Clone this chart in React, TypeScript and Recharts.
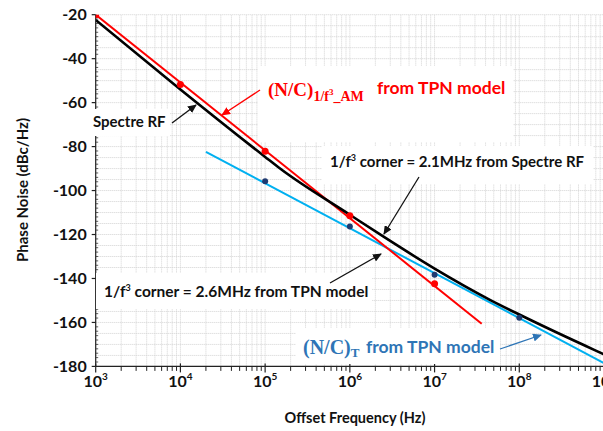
import React from "react";
import { ComposedChart, Line, XAxis, YAxis, ReferenceLine } from "recharts";

const SANS = "Lato, 'Open Sans', sans-serif";
const SERIF = "'Liberation Serif', 'DejaVu Serif', serif";

const RED = "#ff0000";
const CYAN = "#00b0f0";
const NAVY = "#1f3a70";
const BLUE_TEXT = "#2e75b6";
const GRID = "#d2d2d2";

// Spectre RF simulated phase noise (offset Hz, dBc/Hz)
const spectreFreq = [1e3, 1e4, 1e5, 1.5e5, 1e6, 2.5e6, 1e7, 4.5e7, 1e8, 8e8, 1e9];
const spectreDb = [-22.4, -54, -84.7, -90, -111, -121, -135.5, -149.7, -156.4, -172.8, -174.5];

// TPN model, (N/C) 1/f^3 AM asymptote and computed points
const amFitFreq = [1e3, 3.6e7];
const amFitDb = [-20, -160.6];
const amPointFreq = [1e3, 1e4, 1e5, 1e6, 1e7];
const amPointDb = [-20, -51.7, -82.1, -111.5, -142.4];

// TPN model, (N/C)T thermal asymptote and computed points
const thFitFreq = [2e4, 1e9];
const thFitDb = [-82.4, -178.5];
const thPointFreq = [1e5, 1e6, 1e7, 1e8];
const thPointDb = [-95.8, -116.3, -138.3, -157.9];

// axis ticks
const decades = [1e3, 1e4, 1e5, 1e6, 1e7, 1e8, 1e9];
const decadeExp = ["3", "4", "5", "6", "7", "8", "9"];
const minorSteps = [2, 3, 4, 5, 6, 7, 8, 9];

const toRows = (fs: number[], ds: number[]) => fs.map((f, i) => ({ f, db: ds[i] }));

const logTicks: number[] = [];
decades.forEach((d, i) => {
  logTicks.push(d);
  if (i < decades.length - 1) minorSteps.forEach((m) => logTicks.push(m * d));
});

const yMinor: number[] = [];
for (let v = -180; v <= -20; v += 2) yMinor.push(v);
const yGrid: number[] = [];
for (let v = -180; v <= -20; v += 5) yGrid.push(v);

function XTick(props: any) {
  const { x, y, payload } = props;
  const i = decades.indexOf(payload.value);
  if (i < 0) {
    return <line x1={x} x2={x} y1={y} y2={y + 4.5} stroke="#222" strokeWidth={1} />;
  }
  return (
    <g>
      <line x1={x} x2={x} y1={y - 3} y2={y + 6} stroke="#222" strokeWidth={1.2} />
      <text x={x} y={y + 21} textAnchor="middle" fontFamily={SANS} fontWeight={700} fontSize={16} fill="#111">
        10<tspan fontSize={10} dy={-7}>{decadeExp[i]}</tspan>
      </text>
    </g>
  );
}

function YTick(props: any) {
  const { x, y, payload } = props;
  const v = payload.value;
  if (v % 20 !== 0) {
    return <line x1={x} x2={x + 2.5} y1={y} y2={y} stroke="#333" strokeWidth={0.8} />;
  }
  return (
    <g>
      <line x1={x - 4} x2={x} y1={y} y2={y} stroke="#222" strokeWidth={1.2} />
      <text x={x - 9} y={y + 5.5} textAnchor="end" fontFamily={SANS} fontWeight={700} fontSize={16} fill="#111">
        {v}
      </text>
    </g>
  );
}

function Arrow({ x1, y1, x2, y2, color, id }: any) {
  return <line x1={x1} y1={y1} x2={x2} y2={y2} stroke={color} strokeWidth={1.3} markerEnd={`url(#${id})`} />;
}

function Annotations() {
  const head = (id: string, color: string) => (
    <marker id={id} markerUnits="userSpaceOnUse" markerWidth={9} markerHeight={8} refX={8} refY={4} orient="auto">
      <path d="M0,0 L9,4 L0,8 z" fill={color} />
    </marker>
  );
  return (
    <svg width={603} height={431} style={{ position: "absolute", left: 0, top: 0, pointerEvents: "none" }}>
      <defs>
        {head("hk", "#111")}
        {head("hr", RED)}
        {head("hb", BLUE_TEXT)}
      </defs>

      {/* label backgrounds */}
      <rect x={258} y={66} width={255} height={76} fill="#fff" />
      <rect x={90} y={109} width={80} height={27} fill="#fff" />
      <rect x={322} y={146} width={271} height={38} fill="#fff" />
      <rect x={96} y={273} width={276} height={36} fill="#fff" />
      <rect x={296} y={328} width={204} height={36} fill="#fff" />

      <text x={268} y={96} fill={RED} fontWeight={700}>
        <tspan fontFamily={SERIF} fontSize={19}>(N/C)</tspan>
        <tspan fontFamily={SERIF} fontSize={14} dy={5}>1/f</tspan>
        <tspan fontFamily={SERIF} fontSize={9} dy={-6}>3</tspan>
        <tspan fontFamily={SERIF} fontSize={14} dy={6}>_AM</tspan>
      </text>
      <text x={377} y={94} fill={RED} fontFamily={SANS} fontWeight={700} fontSize={17.5}>
        from TPN model
      </text>
      <Arrow x1={260} y1={90} x2={222} y2={115} color={RED} id="hr" />

      <text x={93} y={127} fill="#111" fontFamily={SANS} fontWeight={700} fontSize={15}>
        Spectre RF
      </text>
      <Arrow x1={172} y1={123} x2={196} y2={105} color="#111" id="hk" />

      <text x={330} y={167} fill="#111" fontFamily={SANS} fontWeight={700} fontSize={15}>
        1/f<tspan fontSize={9} dy={-6}>3</tspan>
        <tspan dy={6}> corner = 2.1MHz from Spectre RF</tspan>
      </text>
      <Arrow x1={419} y1={177} x2={384} y2={234} color="#111" id="hk" />

      <text x={104} y={297} fill="#111" fontFamily={SANS} fontWeight={700} fontSize={15.5}>
        1/f<tspan fontSize={9} dy={-6}>3</tspan>
        <tspan dy={6}> corner = 2.6MHz from TPN model</tspan>
      </text>
      <Arrow x1={330} y1={283} x2={381} y2={254} color="#111" id="hk" />

      <text x={303} y={354} fill={BLUE_TEXT} fontWeight={700}>
        <tspan fontFamily={SERIF} fontSize={20}>(N/C)</tspan>
        <tspan fontFamily={SERIF} fontSize={13} dy={3}>T</tspan>
      </text>
      <text x={366} y={353} fill={BLUE_TEXT} fontFamily={SANS} fontWeight={700} fontSize={17.5}>
        from TPN model
      </text>
      <Arrow x1={500} y1={349} x2={541} y2={335} color={BLUE_TEXT} id="hb" />

      <text
        x={22}
        y={190}
        transform="rotate(-90 22 190)"
        textAnchor="middle"
        dominantBaseline="central"
        fill="#111"
        fontFamily={SANS}
        fontWeight={700}
        fontSize={15}
      >
        Phase Noise  (dBc/Hz)
      </text>
      <text x={355} y={423} textAnchor="middle" fill="#111" fontFamily={SANS} fontWeight={700} fontSize={14.5}>
        Offset Frequency (Hz)
      </text>
    </svg>
  );
}

export default function App() {
  return (
    <div style={{ position: "absolute", left: 0, top: 0, width: 603, height: 431, overflow: "hidden", background: "#fff" }}>
      <ComposedChart width={620} height={431} margin={{ top: 14.7, right: 16, bottom: 27.7, left: 14 }}>
        <XAxis
          xAxisId="g"
          dataKey="f"
          type="number"
          scale="log"
          domain={[1e3, 1e9]}
          tick={false}
          tickLine={false}
          axisLine={false}
          height={6.9}
          allowDataOverflow
        />
        <XAxis
          xAxisId="a"
          dataKey="f"
          type="number"
          scale="log"
          domain={[1e3, 1e9]}
          ticks={logTicks}
          interval={0}
          tick={<XTick />}
          tickLine={false}
          tickSize={0}
          tickMargin={0}
          axisLine={{ stroke: "#222", strokeWidth: 1.2 }}
          height={30}
          allowDataOverflow
        />
        <YAxis
          yAxisId="g"
          type="number"
          domain={[-180, -20]}
          tick={false}
          tickLine={false}
          axisLine={false}
          width={11.7}
          allowDataOverflow
        />
        <YAxis
          yAxisId="a"
          type="number"
          domain={[-180, -20]}
          ticks={yMinor}
          interval={0}
          tick={<YTick />}
          tickLine={false}
          tickSize={0}
          tickMargin={0}
          axisLine={{ stroke: "#222", strokeWidth: 1.2 }}
          width={70}
          allowDataOverflow
        />
        {/* dotted grid: every log step across, every 5 dB down */}
        {logTicks.map((t) => (
          <ReferenceLine key={`v${t}`} xAxisId="g" yAxisId="g" x={t} stroke={GRID} strokeWidth={1} strokeDasharray="1 1" />
        ))}
        {yGrid.map((v) => (
          <ReferenceLine key={`h${v}`} xAxisId="g" yAxisId="g" y={v} stroke={GRID} strokeWidth={1} strokeDasharray="1 1" />
        ))}
        <Line
          xAxisId="g"
          yAxisId="g"
          data={toRows(thFitFreq, thFitDb)}
          dataKey="db"
          type="linear"
          stroke={CYAN}
          strokeWidth={2}
          dot={false}
          isAnimationActive={false}
        />
        <Line
          xAxisId="g"
          yAxisId="g"
          data={toRows(amFitFreq, amFitDb)}
          dataKey="db"
          type="linear"
          stroke={RED}
          strokeWidth={2}
          dot={false}
          isAnimationActive={false}
        />
        <Line
          xAxisId="g"
          yAxisId="g"
          data={toRows(spectreFreq, spectreDb)}
          dataKey="db"
          type="monotone"
          stroke="#000"
          strokeWidth={2.6}
          dot={false}
          isAnimationActive={false}
        />
        <Line
          xAxisId="g"
          yAxisId="g"
          data={toRows(amPointFreq, amPointDb)}
          dataKey="db"
          stroke="none"
          dot={{ r: 3.5, fill: RED, stroke: "none" }}
          isAnimationActive={false}
        />
        <Line
          xAxisId="g"
          yAxisId="g"
          data={toRows(thPointFreq, thPointDb)}
          dataKey="db"
          stroke="none"
          dot={{ r: 3, fill: NAVY, stroke: "none" }}
          isAnimationActive={false}
        />
      </ComposedChart>
      <Annotations />
    </div>
  );
}
